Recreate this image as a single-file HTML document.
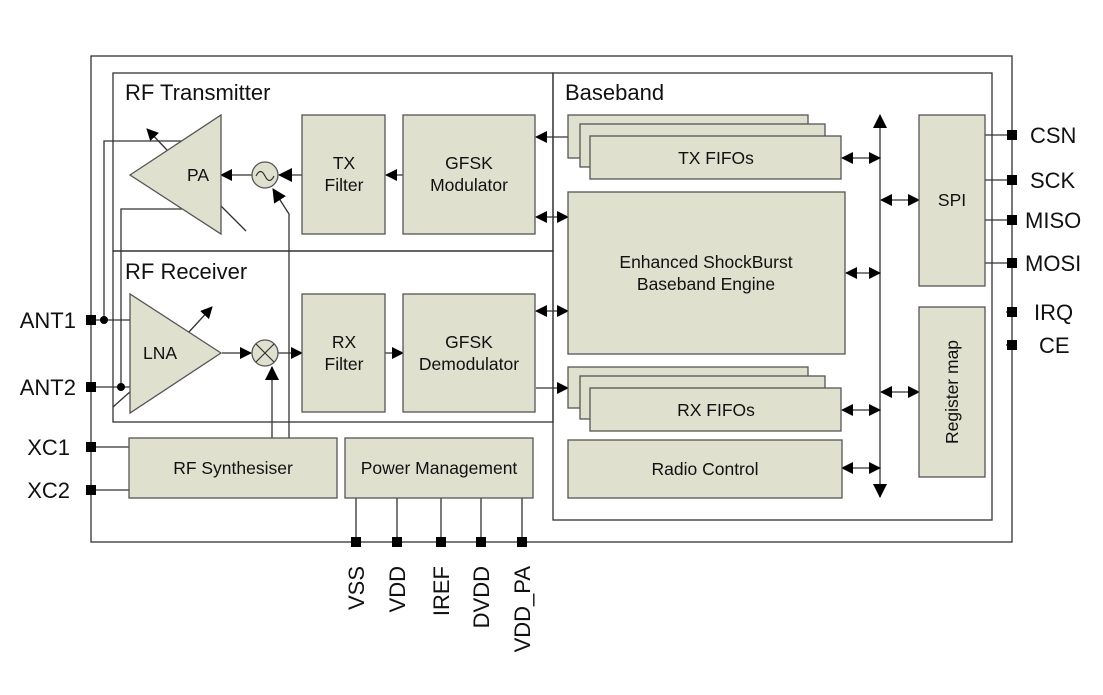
<!DOCTYPE html>
<html><head><meta charset="utf-8"><style>
html,body{margin:0;padding:0;background:#fff;}
svg{display:block;font-family:"Liberation Sans",Arial,sans-serif;}
</style></head><body>
<svg width="1103" height="695" viewBox="0 0 1103 695" xmlns="http://www.w3.org/2000/svg">
<defs>
<marker id="a" markerWidth="12" markerHeight="12" refX="11" refY="6" orient="auto-start-reverse" markerUnits="userSpaceOnUse"><path d="M0,0 L12,6 L0,12 z" fill="#000"/></marker>
<marker id="b" markerWidth="14" markerHeight="14" refX="13" refY="7" orient="auto-start-reverse" markerUnits="userSpaceOnUse"><path d="M0,0 L14,7 L0,14 z" fill="#000"/></marker>
</defs>
<g fill="none" stroke="#333" stroke-width="1.3">
<rect x="91" y="56" width="921" height="486"/>
<rect x="113" y="73" width="440" height="178"/>
<rect x="113" y="251" width="440" height="171"/>
<rect x="553" y="73" width="439" height="447"/>
<line x1="91" y1="320" x2="132" y2="320"/>
<polyline points="104,320 104,141 182,141"/>
<line x1="91" y1="387" x2="132" y2="387"/>
<polyline points="121,387 121,209 182,209"/>
<line x1="91" y1="447" x2="129" y2="447"/>
<line x1="91" y1="490" x2="129" y2="490"/>
<polyline points="289,438 289,214 273,189" marker-end="url(#b)"/>
<line x1="272" y1="438" x2="272" y2="367" marker-end="url(#b)"/>
<line x1="221" y1="206" x2="246" y2="231"/>
<line x1="113" y1="407" x2="131" y2="391"/>
<line x1="167" y1="150" x2="147" y2="129" marker-end="url(#a)"/>
<line x1="188" y1="333" x2="212" y2="307" marker-end="url(#a)"/>
<line x1="302" y1="175" x2="279" y2="175" marker-end="url(#b)"/>
<line x1="252" y1="175" x2="221" y2="175" marker-end="url(#a)"/>
<line x1="403" y1="175" x2="386" y2="175" marker-end="url(#a)"/>
<line x1="222" y1="353" x2="251" y2="353" marker-end="url(#a)"/>
<line x1="278" y1="353" x2="302" y2="353" marker-end="url(#a)"/>
<line x1="385" y1="353" x2="403" y2="353" marker-end="url(#a)"/>
<line x1="568" y1="137" x2="536" y2="137" marker-end="url(#a)"/>
<line x1="536" y1="217" x2="568" y2="217" marker-start="url(#a)" marker-end="url(#a)"/>
<line x1="536" y1="311" x2="568" y2="311" marker-start="url(#a)" marker-end="url(#a)"/>
<line x1="536" y1="388" x2="568" y2="388" marker-end="url(#a)"/>
<line x1="880" y1="115" x2="880" y2="497" marker-start="url(#b)" marker-end="url(#b)"/>
<line x1="842" y1="158" x2="880" y2="158" marker-start="url(#a)" marker-end="url(#a)"/>
<line x1="846" y1="273" x2="880" y2="273" marker-start="url(#a)" marker-end="url(#a)"/>
<line x1="842" y1="410" x2="880" y2="410" marker-start="url(#a)" marker-end="url(#a)"/>
<line x1="842" y1="468" x2="880" y2="468" marker-start="url(#a)" marker-end="url(#a)"/>
<line x1="881" y1="200" x2="919" y2="200" marker-start="url(#a)" marker-end="url(#a)"/>
<line x1="881" y1="392" x2="919" y2="392" marker-start="url(#a)" marker-end="url(#a)"/>
<line x1="985" y1="135" x2="1012" y2="135"/>
<line x1="985" y1="180" x2="1012" y2="180"/>
<line x1="985" y1="220" x2="1012" y2="220"/>
<line x1="985" y1="263" x2="1012" y2="263"/>
<line x1="1006" y1="312" x2="1012" y2="312"/>
<line x1="1006" y1="345" x2="1012" y2="345"/>
<line x1="356" y1="498" x2="356" y2="542"/>
<line x1="397" y1="498" x2="397" y2="542"/>
<line x1="441" y1="498" x2="441" y2="542"/>
<line x1="481" y1="498" x2="481" y2="542"/>
<line x1="522" y1="498" x2="522" y2="542"/>
</g>
<g fill="#e0e0cf" stroke="#555" stroke-width="1.3">
<polygon points="130,175 221,115 221,234"/>
<polygon points="221,353 130,294 130,413"/>
<circle cx="265" cy="175" r="13"/>
<circle cx="265" cy="353" r="13"/>
<rect x="302" y="115" width="83" height="119"/>
<rect x="403" y="115" width="132" height="119"/>
<rect x="302" y="294" width="83" height="118"/>
<rect x="403" y="294" width="132" height="118"/>
<rect x="129" y="438" width="208" height="60"/>
<rect x="345" y="438" width="188" height="60"/>
<rect x="568" y="115" width="240" height="43"/>
<rect x="580" y="124" width="245" height="43"/>
<rect x="590" y="136" width="251" height="43"/>
<rect x="568" y="192" width="277" height="162"/>
<rect x="568" y="367" width="240" height="41"/>
<rect x="580" y="376" width="245" height="43"/>
<rect x="590" y="388" width="251" height="43"/>
<rect x="568" y="440" width="274" height="58"/>
<rect x="919" y="115" width="66" height="171"/>
<rect x="919" y="307" width="66" height="170"/>
</g>
<g fill="none" stroke="#333" stroke-width="1.2">
<path d="M256,176 q4.5,-9 9,0 t9,0"/>
<line x1="256" y1="344" x2="274" y2="362"/>
<line x1="274" y1="344" x2="256" y2="362"/>
</g>
<g fill="#000">
<circle cx="104" cy="320" r="4"/>
<circle cx="121" cy="387" r="4"/>
<rect x="86" y="315" width="10" height="10"/>
<rect x="86" y="382" width="10" height="10"/>
<rect x="86" y="442" width="10" height="10"/>
<rect x="86" y="485" width="10" height="10"/>
<rect x="1007" y="130" width="10" height="10"/>
<rect x="1007" y="175" width="10" height="10"/>
<rect x="1007" y="215" width="10" height="10"/>
<rect x="1007" y="258" width="10" height="10"/>
<rect x="1007" y="307" width="10" height="10"/>
<rect x="1007" y="340" width="10" height="10"/>
<rect x="351" y="537" width="10" height="10"/>
<rect x="392" y="537" width="10" height="10"/>
<rect x="436" y="537" width="10" height="10"/>
<rect x="476" y="537" width="10" height="10"/>
<rect x="517" y="537" width="10" height="10"/>
</g>
<g fill="#111" font-size="22">
<text x="125" y="100">RF Transmitter</text>
<text x="125" y="279">RF Receiver</text>
<text x="565" y="100">Baseband</text>
<text x="76" y="328" text-anchor="end">ANT1</text>
<text x="76" y="395" text-anchor="end">ANT2</text>
<text x="70" y="455" text-anchor="end">XC1</text>
<text x="70" y="498" text-anchor="end">XC2</text>
<text x="1030" y="143">CSN</text>
<text x="1030" y="188">SCK</text>
<text x="1025" y="228">MISO</text>
<text x="1025" y="271">MOSI</text>
<text x="1034" y="320">IRQ</text>
<text x="1039" y="353">CE</text>
<text transform="translate(364,566) rotate(-90)" text-anchor="end">VSS</text>
<text transform="translate(405,566) rotate(-90)" text-anchor="end">VDD</text>
<text transform="translate(449,566) rotate(-90)" text-anchor="end">IREF</text>
<text transform="translate(489,566) rotate(-90)" text-anchor="end">DVDD</text>
<text transform="translate(530,566) rotate(-90)" text-anchor="end">VDD_PA</text>
</g>
<g fill="#111" font-size="17.5" text-anchor="middle">
<text x="198" y="181">PA</text>
<text x="160" y="359">LNA</text>
<text x="344" y="169">TX</text><text x="344" y="191">Filter</text>
<text x="469" y="169">GFSK</text><text x="469" y="191">Modulator</text>
<text x="344" y="348">RX</text><text x="344" y="370">Filter</text>
<text x="469" y="348">GFSK</text><text x="469" y="370">Demodulator</text>
<text x="233" y="474">RF Synthesiser</text>
<text x="439" y="474">Power Management</text>
<text x="716" y="164">TX FIFOs</text>
<text x="706" y="268">Enhanced ShockBurst</text>
<text x="706" y="290">Baseband Engine</text>
<text x="716" y="416">RX FIFOs</text>
<text x="705" y="475">Radio Control</text>
<text x="952" y="206">SPI</text>
<text transform="translate(958,392) rotate(-90)">Register map</text>
</g>
</svg>
</body></html>
